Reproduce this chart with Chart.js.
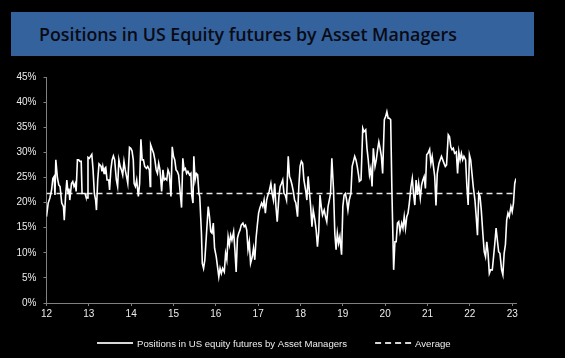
<!DOCTYPE html>
<html>
<head>
<meta charset="utf-8">
<script src="https://cdn.jsdelivr.net/npm/chart.js@4.4.0/dist/chart.umd.min.js"></script>
<style>
  html, body { margin: 0; padding: 0; background: #000; }
  #wrap { position: relative; width: 565px; height: 358px; }
  #banner {
    position: absolute; left: 11px; top: 12px; width: 523px; height: 44px;
    background: #33629d;
  }
  #banner span {
    position: absolute; left: 28px; top: 10px;
    font: 600 17.8px "Open Sans", "DejaVu Sans", sans-serif; color: #0a0a14;
    white-space: nowrap;
  }
  canvas { position: absolute; left: 0; top: 0; }
</style>
</head>
<body>
<div id="wrap">
  <div id="banner"><span>Positions in US Equity futures by Asset Managers</span></div>
  <canvas id="chart" width="565" height="358"></canvas>
</div>
<script>
// dates as decimal years (12 = 2012), values in %
const dates = [
  12.00,12.04,12.08,12.12,12.15,12.18,12.20,12.22,12.26,12.29,
  12.32,12.36,12.40,12.42,12.45,12.48,12.51,12.53,12.55,12.59,
  12.62,12.65,12.68,12.70,12.73,12.76,12.79,12.82,12.84,12.87,
  12.91,12.93,12.96,12.98,13.01,13.04,13.07,13.10,13.13,13.16,
  13.18,13.21,13.24,13.26,13.29,13.31,13.33,13.36,13.38,13.40,
  13.43,13.47,13.49,13.52,13.55,13.58,13.61,13.65,13.68,13.71,
  13.74,13.77,13.80,13.83,13.86,13.89,13.92,13.96,13.99,14.02,
  14.05,14.07,14.10,14.13,14.17,14.20,14.23,14.26,14.29,14.32,
  14.36,14.39,14.43,14.45,14.46,14.50,14.53,14.56,14.59,14.62,
  14.65,14.68,14.72,14.75,14.78,14.81,14.84,14.87,14.90,14.94,
  14.97,15.00,15.03,15.06,15.09,15.12,15.16,15.19,15.22,15.25,
  15.28,15.31,15.34,15.38,15.41,15.43,15.46,15.48,15.51,15.54,
  15.57,15.60,15.62,15.66,15.68,15.71,15.74,15.78,15.82,15.85,
  15.88,15.91,15.94,15.97,16.01,16.04,16.07,16.10,16.13,16.16,
  16.20,16.23,16.26,16.29,16.32,16.35,16.38,16.42,16.45,16.48,
  16.51,16.54,16.57,16.60,16.64,16.67,16.70,16.73,16.76,16.79,
  16.82,16.86,16.89,16.92,16.95,16.98,17.01,17.04,17.08,17.11,
  17.14,17.17,17.20,17.23,17.26,17.30,17.33,17.36,17.39,17.42,
  17.45,17.49,17.52,17.55,17.58,17.61,17.64,17.67,17.71,17.74,
  17.77,17.80,17.83,17.86,17.89,17.93,17.96,17.99,18.02,18.05,
  18.08,18.12,18.15,18.18,18.21,18.24,18.27,18.30,18.34,18.37,
  18.40,18.43,18.46,18.49,18.52,18.56,18.59,18.62,18.65,18.68,
  18.71,18.74,18.78,18.81,18.84,18.87,18.90,18.93,18.97,19.00,
  19.03,19.06,19.09,19.12,19.15,19.19,19.22,19.25,19.28,19.31,
  19.34,19.37,19.39,19.43,19.47,19.50,19.54,19.57,19.60,19.63,
  19.66,19.69,19.72,19.76,19.79,19.82,19.85,19.88,19.91,19.94,
  19.98,20.01,20.04,20.07,20.10,20.13,20.16,20.20,20.23,20.26,
  20.29,20.32,20.35,20.39,20.42,20.45,20.48,20.51,20.54,20.57,
  20.61,20.64,20.67,20.70,20.73,20.76,20.79,20.83,20.86,20.89,
  20.92,20.95,20.98,21.01,21.05,21.08,21.11,21.14,21.17,21.20,
  21.23,21.27,21.30,21.33,21.36,21.39,21.42,21.45,21.49,21.52,
  21.55,21.58,21.61,21.64,21.68,21.71,21.74,21.77,21.80,21.83,
  21.86,21.90,21.93,21.96,21.99,22.02,22.05,22.08,22.12,22.15,
  22.18,22.21,22.24,22.27,22.31,22.34,22.37,22.40,22.43,22.46,
  22.49,22.53,22.56,22.59,22.62,22.65,22.68,22.71,22.75,22.78,
  22.81,22.84,22.87,22.90,22.93,22.97,23.00,23.03,23.06,23.09
];

const positions = [
  17.2,19.9,20.9,22.5,24.8,25.2,21.5,28.5,24.8,23.5,
  23.2,19.9,19.2,16.5,21.2,24.5,21.8,22.8,20.5,23.8,
  24.2,23.2,23.8,22.2,28.5,28.5,28.2,28.2,21.8,21.8,
  21.8,21.2,20.9,29.0,28.8,29.2,29.6,26.5,21.8,20.5,
  18.5,24.5,27.7,27.5,27.2,26.2,27.2,25.8,26.8,27.0,
  24.5,24.5,22.5,26.5,28.5,29.3,28.5,24.5,23.2,28.5,
  27.2,26.5,25.5,28.2,26.5,25.2,23.8,31.0,30.8,30.3,
  28.5,23.8,23.2,24.5,21.2,23.8,32.6,28.5,28.5,27.2,
  26.8,27.2,26.5,23.2,31.5,30.5,29.8,28.5,26.5,25.8,
  27.8,26.5,22.2,26.5,24.5,24.8,24.5,26.5,25.8,21.2,
  31.1,29.2,28.5,26.5,26.2,25.5,21.8,19.0,28.8,26.5,
  26.8,25.8,26.2,25.5,25.8,21.5,19.9,29.2,24.5,25.8,
  25.5,21.8,21.2,13.9,7.9,6.9,8.6,13.9,19.2,17.2,
  14.2,13.9,15.9,10.9,9.2,7.2,5.2,6.9,5.9,6.9,
  6.2,9.9,8.6,13.2,11.6,13.5,12.5,14.2,10.6,6.2,
  12.9,13.9,14.5,15.5,15.9,15.2,15.5,14.5,10.6,12.2,
  7.9,9.2,10.9,8.6,12.9,15.5,17.9,18.9,19.9,19.2,
  20.5,17.9,20.5,21.5,22.2,23.8,21.8,20.5,23.8,19.2,
  16.2,21.2,23.2,23.8,24.5,21.8,21.5,20.5,29.2,25.2,
  24.5,23.5,22.2,20.5,19.9,17.2,23.2,27.2,28.2,27.8,
  24.5,22.5,20.5,25.2,22.2,19.2,15.2,18.5,16.5,14.5,
  11.2,14.2,21.5,19.2,17.5,18.5,17.2,16.2,19.2,20.5,
  21.8,28.8,22.5,13.9,10.6,13.9,11.9,13.2,9.6,19.2,
  21.5,21.8,20.5,18.5,20.5,21.8,27.2,28.2,29.2,28.5,
  27.2,25.5,24.2,24.5,34.8,34.1,34.5,30.8,28.5,25.5,
  26.8,23.2,30.8,27.2,28.5,30.5,32.1,30.8,29.2,25.8,
  36.5,37.1,38.1,36.8,36.8,36.5,21.8,6.6,12.2,12.2,
  15.9,16.2,14.2,15.9,14.9,17.2,14.9,17.2,17.9,19.9,
  23.2,24.8,21.8,19.5,24.5,21.5,23.8,20.9,23.5,24.5,
  25.2,22.8,29.5,29.8,30.6,27.8,29.2,27.2,25.2,19.4,
  25.8,27.8,28.5,29.2,28.5,27.8,27.2,27.5,33.5,33.1,
  31.1,30.5,30.8,29.8,30.1,25.8,30.1,28.5,29.8,28.5,
  29.2,28.5,23.2,19.5,29.5,28.5,25.8,23.2,20.5,17.2,
  13.5,21.8,21.2,18.5,13.5,10.2,9.2,12.2,9.9,5.9,
  6.6,6.6,9.2,11.9,14.9,12.5,10.2,9.9,6.6,5.6,
  9.9,11.6,16.5,17.9,17.2,19.2,18.2,19.9,23.8,24.8
];

const averageValue = 21.8;
const xTicks = [12, 13, 14, 15, 16, 17, 18, 19, 20, 21, 22, 23];
const yTicks = [0, 5, 10, 15, 20, 25, 30, 35, 40, 45];
const seriesLabels = ['Positions in US equity futures by Asset Managers', 'Average'];

const xMin = dates[0];
const xMax = dates[dates.length - 1];

const axisColor = '#808080';
const textColor = '#ececec';
const tickFont = { family: '"Liberation Sans", Arial, sans-serif', size: 10 };

// leyenda dibujada a mano debajo del eje
const bottomLegend = {
  id: 'bottomLegend',
  afterDraw(chart) {
    const ctx = chart.ctx;
    const y = 343;
    let x = 97;
    ctx.save();
    ctx.font = '9.6px "Liberation Sans", Arial, sans-serif';
    ctx.textBaseline = 'middle';
    chart.data.datasets.forEach(ds => {
      ctx.strokeStyle = ds.legendColor;
      ctx.lineWidth = 2;
      ctx.setLineDash(ds.borderDash || []);
      ctx.beginPath();
      ctx.moveTo(x, y);
      ctx.lineTo(x + 36, y);
      ctx.stroke();
      ctx.setLineDash([]);
      ctx.fillStyle = textColor;
      ctx.fillText(ds.label, x + 40, y + 1);
      x += 40 + ctx.measureText(ds.label).width + 28;
    });
    ctx.restore();
  }
};

new Chart(document.getElementById('chart'), {
  type: 'line',
  data: {
    datasets: [
      {
        label: seriesLabels[0],
        data: dates.map((d, i) => ({ x: d, y: positions[i] })),
        borderColor: '#ffffff',
        legendColor: '#d8d8d8',
        borderWidth: 1.6,
        pointRadius: 0,
        tension: 0
      },
      {
        label: seriesLabels[1],
        data: [{ x: xMin, y: averageValue }, { x: xMax, y: averageValue }],
        borderColor: '#e8e8e8',
        legendColor: '#d8d8d8',
        borderWidth: 1.5,
        borderDash: [6, 4],
        pointRadius: 0
      }
    ]
  },
  options: {
    responsive: false,
    animation: false,
    layout: { padding: { top: 77, right: 49, bottom: 35, left: 0 } },
    plugins: {
      legend: { display: false },
      tooltip: { enabled: false }
    },
    scales: {
      x: {
        type: 'linear',
        min: xMin,
        max: xMax,
        afterBuildTicks: scale => { scale.ticks = xTicks.map(v => ({ value: v })); },
        afterFit: scale => { scale.height = 20; },
        ticks: {
          color: textColor,
          font: tickFont,
          padding: 2,
          maxRotation: 0,
          autoSkip: false,
          callback: v => String(v)
        },
        grid: { drawOnChartArea: false, color: axisColor, tickLength: 3 },
        border: { color: axisColor, width: 1 }
      },
      y: {
        min: 0,
        max: 45,
        afterBuildTicks: scale => { scale.ticks = yTicks.map(v => ({ value: v })); },
        afterFit: scale => { scale.width = 46.5; },
        ticks: {
          color: textColor,
          font: tickFont,
          padding: 7,
          callback: v => v + '%'
        },
        grid: { drawOnChartArea: false, color: axisColor, tickLength: 3 },
        border: { color: axisColor, width: 1 }
      }
    }
  },
  plugins: [bottomLegend]
});
</script>
</body>
</html>
